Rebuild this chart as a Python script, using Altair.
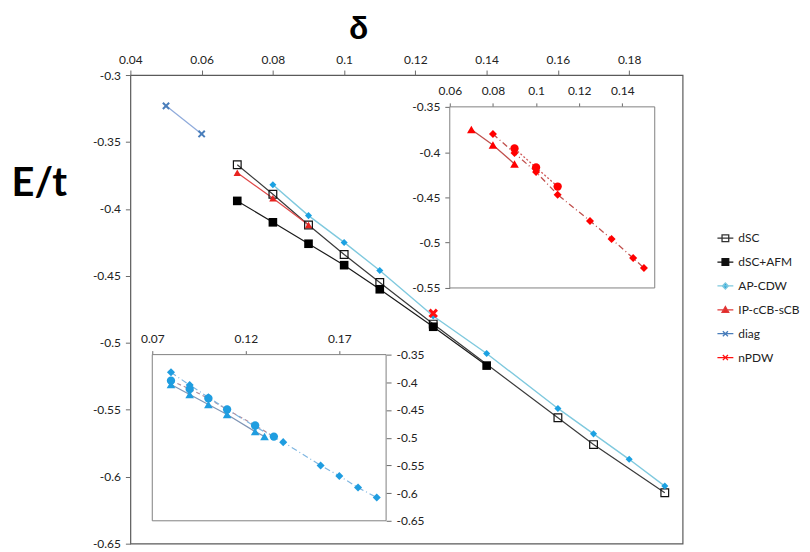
import altair as alt
import pandas as pd

# ---------------- main panel data ----------------
dsc_x = [0.07, 0.08, 0.09, 0.10, 0.11, 0.125, 0.16, 0.17, 0.19]
dsc_y = [-0.367, -0.389, -0.412, -0.434, -0.455, -0.486, -0.556, -0.576, -0.612]

afm_x = [0.07, 0.08, 0.09, 0.10, 0.11, 0.125, 0.14]
afm_y = [-0.394, -0.410, -0.426, -0.442, -0.460, -0.488, -0.517]

apcdw_x = [0.08, 0.09, 0.10, 0.11, 0.125, 0.14, 0.16, 0.17, 0.18, 0.19]
apcdw_y = [-0.382, -0.405, -0.425, -0.446, -0.480, -0.508, -0.549, -0.568, -0.587, -0.607]

ip_x = [0.07, 0.08, 0.09]
ip_y = [-0.373, -0.392, -0.412]

diag_x = [0.05, 0.06]
diag_y = [-0.323, -0.344]

npdw_x = [0.125]
npdw_y = [-0.478]

main_xticks = [0.04, 0.06, 0.08, 0.1, 0.12, 0.14, 0.16, 0.18]
main_yticks = [-0.3, -0.35, -0.4, -0.45, -0.5, -0.55, -0.6, -0.65]

# ---------------- red inset data ----------------
r_tri_x = [0.07, 0.08, 0.09]
r_tri_y = [-0.375, -0.392, -0.413]
r_circ_x = [0.09, 0.10, 0.11]
r_circ_y = [-0.396, -0.417, -0.438]
r_dia_x = [0.08, 0.09, 0.10, 0.11, 0.125, 0.135, 0.145, 0.15]
r_dia_y = [-0.380, -0.401, -0.422, -0.447, -0.476, -0.496, -0.517, -0.528]
red_xticks = [0.06, 0.08, 0.1, 0.12, 0.14]
red_yticks = [-0.35, -0.4, -0.45, -0.5, -0.55]

# ---------------- blue inset data ----------------
b_dia_x = [0.08, 0.09, 0.10, 0.11, 0.125, 0.14, 0.16, 0.17, 0.18, 0.19]
b_dia_y = [-0.382, -0.405, -0.427, -0.449, -0.480, -0.508, -0.550, -0.569, -0.590, -0.608]
b_circ_x = [0.08, 0.09, 0.10, 0.11, 0.125, 0.135]
b_circ_y = [-0.397, -0.412, -0.429, -0.449, -0.478, -0.498]
b_tri_x = [0.08, 0.09, 0.10, 0.11, 0.125, 0.13]
b_tri_y = [-0.404, -0.422, -0.440, -0.458, -0.489, -0.498]
blue_xticks = [0.07, 0.12, 0.17]
blue_yticks = [-0.35, -0.4, -0.45, -0.5, -0.55, -0.6, -0.65]

# ---------------- legend ----------------
legend_names = ["dSC", "dSC+AFM", "AP-CDW", "IP-cCB-sCB", "diag", "nPDW"]
legend_paths = [
    "M-1,0H1M-0.42,-0.42H0.42V0.42H-0.42Z",
    "M-1,0H1M-0.42,-0.42H0.42V0.42H-0.42Z",
    "M-1,0H1M0,-0.38L0.38,0L0,0.38L-0.38,0Z",
    "M-1,0H1M0,-0.42L0.42,0.32L-0.42,0.32Z",
    "M-1,0H1M-0.32,-0.32L0.32,0.32M-0.32,0.32L0.32,-0.32",
    "M-1,0H1M-0.32,-0.32L0.32,0.32M-0.32,0.32L0.32,-0.32",
]
legend_strokes = ["#333333", "#111111", "#7fc9de", "#e03a3a", "#4a7ebb", "#ff1010"]
legend_fills = ["white", "#111111", "#1ba1e2", "#e8231f", "transparent", "transparent"]

FONT = "Lato"
XPATH = "M-1,-1L1,1M-1,1L1,-1"


def df(xs, ys):
    return pd.DataFrame({"x": xs, "y": ys})


def enc(chart, xs, ys, xaxis=None, yaxis=None):
    return chart.encode(
        x=alt.X("x:Q", scale=xs, axis=xaxis),
        y=alt.Y("y:Q", scale=ys, axis=yaxis),
    )


def line(xv, yv, xs, ys, color, width=1.2, dash=None, xaxis=None, yaxis=None):
    kw = dict(color=color, strokeWidth=width)
    if dash:
        kw["strokeDash"] = dash
    return enc(alt.Chart(df(xv, yv)).mark_line(**kw), xs, ys, xaxis, yaxis)


def pts(xv, yv, xs, ys, shape, size, color, filled=True, sw=1.0):
    m = alt.Chart(df(xv, yv)).mark_point(
        shape=shape, size=size, filled=filled, color=color, opacity=1, strokeWidth=sw
    )
    return enc(m, xs, ys)


def tick_axis(orient, values, offset=0, **kw):
    base = dict(
        orient=orient,
        values=values,
        labelExpr="'' + datum.value",
        tickSize=5,
        tickColor="#6a6a6a",
        domain=False,
        grid=False,
        labelFont=FONT,
        labelFontSize=12,
        labelColor="#222222",
        labelFlush=False,
        labelOverlap=False,
        offset=offset,
        title=None,
    )
    base.update(kw)
    return alt.Axis(**base)


# ---------------- scales ----------------
X_MAIN = alt.Scale(domain=[0.04, 0.195], nice=False, zero=False)
Y_MAIN = alt.Scale(domain=[-0.65, -0.3], nice=False, zero=False)
X_RED = alt.Scale(domain=[0.06, 0.155], range=[321, 527], nice=False, zero=False)
Y_RED = alt.Scale(domain=[-0.55, -0.35], range=[214, 32], nice=False, zero=False)
X_BLUE = alt.Scale(domain=[0.07, 0.195], range=[22, 257], nice=False, zero=False)
Y_BLUE = alt.Scale(domain=[-0.65, -0.35], range=[448, 281], nice=False, zero=False)

main_x_axis = tick_axis(
    "top", main_xticks, labelPadding=4,
    title="δ", titleFont="Liberation Sans", titleFontSize=32, titleFontWeight="bold",
    titleColor="#000000", titleX=229, titleY=-37, titleAlign="center",
    titleBaseline="alphabetic",
)
main_y_axis = tick_axis(
    "left", main_yticks, labelPadding=5,
    title="E/t", titleFont=FONT, titleFontSize=40, titleFontWeight="bold",
    titleColor="#000000", titleAngle=0, titleX=-92, titleY=121,
    titleAlign="center", titleBaseline="alphabetic",
)

LEG = alt.Legend(
    orient="none", legendX=589, legendY=155, title=None,
    labelFont=FONT, labelFontSize=12, labelColor="#222222",
    symbolSize=256, symbolStrokeWidth=1.3, rowPadding=9, labelOffset=4, padding=0,
)

legend_layer = alt.Chart(
    pd.DataFrame({"series": legend_names, "x": diag_x[:1] * 6, "y": diag_y[:1] * 6})
).mark_point(filled=False, opacity=1, strokeWidth=1.3).encode(
    x=alt.X("x:Q", scale=X_MAIN, axis=None),
    y=alt.Y("y:Q", scale=Y_MAIN, axis=None),
    shape=alt.Shape("series:N", scale=alt.Scale(domain=legend_names, range=legend_paths), legend=LEG),
    stroke=alt.Stroke("series:N", scale=alt.Scale(domain=legend_names, range=legend_strokes), legend=LEG),
    fill=alt.Fill("series:N", scale=alt.Scale(domain=legend_names, range=legend_fills), legend=LEG),
).transform_filter("datum.x < 0")


def frame(xs, ys, xaxis, yaxis):
    d = pd.DataFrame({"x": [xs.domain[0]], "x2": [xs.domain[1]],
                      "y": [ys.domain[0]], "y2": [ys.domain[1]]})
    return alt.Chart(d).mark_rect(fill="white", stroke="#808080", strokeWidth=1).encode(
        x=alt.X("x:Q", scale=xs, axis=xaxis),
        x2="x2:Q",
        y=alt.Y("y:Q", scale=ys, axis=yaxis),
        y2="y2:Q",
    )


layers = [
    # main panel
    line(dsc_x, dsc_y, X_MAIN, Y_MAIN, "#3a3a3a", 1.2, xaxis=main_x_axis, yaxis=main_y_axis),
    line(afm_x, afm_y, X_MAIN, Y_MAIN, "#1a1a1a", 1.2),
    line(apcdw_x, apcdw_y, X_MAIN, Y_MAIN, "#7fc9de", 1.4),
    line(ip_x, ip_y, X_MAIN, Y_MAIN, "#e04848", 1.2),
    line(diag_x, diag_y, X_MAIN, Y_MAIN, "#8eaadb", 1.2),
    pts(dsc_x, dsc_y, X_MAIN, Y_MAIN, "square", 60, "#111111", filled=False, sw=1.2),
    pts(afm_x, afm_y, X_MAIN, Y_MAIN, "square", 75, "#000000"),
    pts(apcdw_x, apcdw_y, X_MAIN, Y_MAIN, "diamond", 50, "#1ba1e2"),
    pts(ip_x, ip_y, X_MAIN, Y_MAIN, "triangle-up", 55, "#e8231f"),
    pts(diag_x, diag_y, X_MAIN, Y_MAIN, XPATH, 40, "#4a7ebb", filled=False, sw=2),
    pts(npdw_x, npdw_y, X_MAIN, Y_MAIN, XPATH, 55, "#ff1010", filled=False, sw=3),
    legend_layer,
    # red inset
    frame(X_RED, Y_RED,
          tick_axis("top", red_xticks, offset=-32, tickSize=4, labelPadding=5),
          tick_axis("left", red_yticks, offset=-321, tickSize=5, labelPadding=5)),
    line(r_tri_x, r_tri_y, X_RED, Y_RED, "#c0504d", 1.3),
    line(r_circ_x, r_circ_y, X_RED, Y_RED, "#d05858", 1.3, dash=[2, 2]),
    line(r_dia_x, r_dia_y, X_RED, Y_RED, "#c0504d", 1.3, dash=[6, 3, 1, 3]),
    pts(r_dia_x, r_dia_y, X_RED, Y_RED, "diamond", 65, "#ff0000"),
    pts(r_circ_x, r_circ_y, X_RED, Y_RED, "circle", 70, "#ff0000"),
    pts(r_tri_x, r_tri_y, X_RED, Y_RED, "triangle-up", 75, "#ff0000"),
    # blue inset
    frame(X_BLUE, Y_BLUE,
          tick_axis("top", blue_xticks, offset=-281, tickSize=4, labelPadding=5),
          tick_axis("right", blue_yticks, offset=-298, tickSize=5, labelPadding=5)),
    line(b_tri_x, b_tri_y, X_BLUE, Y_BLUE, "#7f95b5", 1.2),
    line(b_circ_x, b_circ_y, X_BLUE, Y_BLUE, "#b08a9a", 1.2, dash=[4, 3]),
    line(b_dia_x, b_dia_y, X_BLUE, Y_BLUE, "#7fb6e0", 1.2, dash=[6, 3, 1, 3]),
    pts(b_dia_x, b_dia_y, X_BLUE, Y_BLUE, "diamond", 65, "#1f9de0"),
    pts(b_circ_x, b_circ_y, X_BLUE, Y_BLUE, "circle", 70, "#1f9de0"),
    pts(b_tri_x, b_tri_y, X_BLUE, Y_BLUE, "triangle-up", 75, "#1f9de0"),
]

chart = alt.layer(*layers).resolve_scale(
    x="independent", y="independent"
).properties(
    width=555,
    height=471,
    padding={"left": 123, "top": 66, "right": 120, "bottom": 6},
    autosize=alt.AutoSizeParams(type="none"),
).configure_view(
    stroke="#5a5a5a", strokeWidth=1.2
)

chart.save("out.html", embed_options={"renderer": "svg", "actions": False})
